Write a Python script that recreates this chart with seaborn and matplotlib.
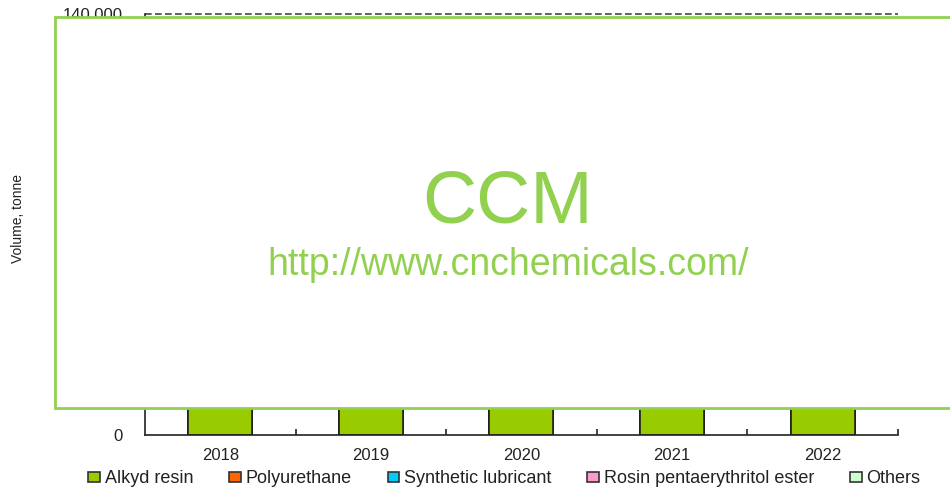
import pandas as pd
import matplotlib
matplotlib.use("Agg")
import matplotlib.pyplot as plt
from matplotlib.patches import Rectangle, Patch
from matplotlib.ticker import FuncFormatter, FixedLocator
import seaborn as sns

# data (the bars are mostly hidden behind the watermark box, values estimated)
years = ["2018", "2019", "2020", "2021", "2022"]
alkyd_resin = [62000, 64000, 61000, 63000, 65000]
polyurethane = [21000, 22000, 21500, 22500, 23000]
synthetic_lubricant = [14000, 14500, 14000, 15000, 15500]
rosin_ester = [9000, 9200, 8800, 9300, 9500]
others = [8000, 8300, 8100, 8400, 8600]

series = {
    "Alkyd resin": alkyd_resin,
    "Polyurethane": polyurethane,
    "Synthetic lubricant": synthetic_lubricant,
    "Rosin pentaerythritol ester": rosin_ester,
    "Others": others,
}
colors = {
    "Alkyd resin": "#99CC00",
    "Polyurethane": "#FF6600",
    "Synthetic lubricant": "#00CCFF",
    "Rosin pentaerythritol ester": "#FF99CC",
    "Others": "#CCFFCC",
}

sns.set_theme(style="white")
plt.rcParams["font.family"] = ["Liberation Sans", "DejaVu Sans"]

df = pd.DataFrame(series, index=years)
cum = df.cumsum(axis=1)

fig = plt.figure(figsize=(9.5, 4.91), dpi=100)
ax = fig.add_axes([0.1526, 0.114, 0.7926, 0.857])

# stacked bars: draw cumulative totals from the top layer down
for name in reversed(list(series.keys())):
    d = pd.DataFrame({"year": years, "value": cum[name].values})
    sns.barplot(data=d, x="year", y="value", color=colors[name], ax=ax,
                width=0.425, edgecolor="#222222", linewidth=1.2, saturation=1,
                errorbar=None)

ax.set_xlim(-0.5, 4.5)
ax.set_ylim(0, 140000)
ax.yaxis.set_major_locator(FixedLocator(range(0, 140001, 20000)))
ax.yaxis.set_major_formatter(FuncFormatter(lambda v, p: f"{int(v):,}"))
ax.grid(False)
ax.axhline(140000, linestyle=(0, (4, 2)), color="#444444", linewidth=1.2,
           zorder=0, clip_on=False)
ax.xaxis.set_minor_locator(FixedLocator([0.5, 1.5, 2.5, 3.5, 4.5]))
ax.tick_params(axis="x", which="major", bottom=False, labelsize=12, pad=3, colors="#222222")
ax.tick_params(axis="x", which="minor", bottom=True, direction="in", length=4,
               width=1.2, color="#222222")
ax.tick_params(axis="y", length=0, labelsize=12, pad=16, colors="#222222")
for s in ["top", "right"]:
    ax.spines[s].set_visible(False)
for s in ["left", "bottom"]:
    ax.spines[s].set_color("#222222")
    ax.spines[s].set_linewidth(1.2)
ax.set_xlabel("")
ax.set_ylabel("")
fig.text(0.019, 0.555, "Volume, tonne", rotation=90, ha="center", va="center",
         fontsize=10, color="#222222")

handles = [Patch(facecolor=colors[n], edgecolor="#333333", linewidth=1.2, label=n)
           for n in series]
fig.legend(handles=handles, loc="center", bbox_to_anchor=(0.531, 0.025), ncol=5,
           frameon=False, fontsize=13, handlelength=0.65, handleheight=0.45,
           handletextpad=0.25, columnspacing=2.0, labelcolor="#222222")

# watermark box
fig.patches.append(Rectangle((55 / 950, 83 / 491), 1.0, 391 / 491,
                             transform=fig.transFigure, facecolor="white",
                             edgecolor="#92D050", linewidth=2, zorder=10))
fig.text(508 / 950, 1 - 203 / 491, "CCM", ha="center", va="center",
         fontsize=54, color="#92D050", zorder=11)
fig.text(508 / 950, 1 - 265 / 491, "http://www.cnchemicals.com/", ha="center",
         va="center", fontsize=27, color="#92D050", zorder=11)

fig.savefig("out.png", dpi=100)
